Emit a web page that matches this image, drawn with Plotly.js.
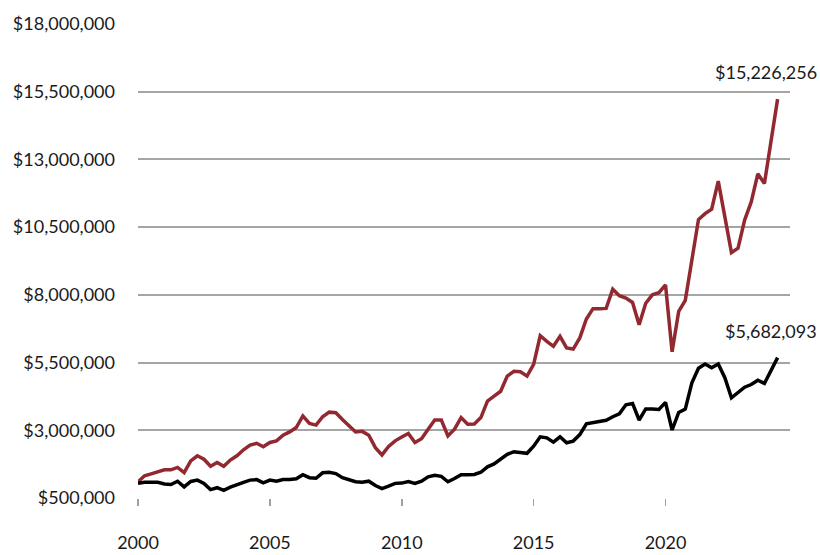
<!DOCTYPE html>
<html>
<head>
<meta charset="utf-8">
<script src="https://cdn.plot.ly/plotly-3.0.1.min.js"></script>
<style>html,body{margin:0;padding:0;background:#fff;}#chart{width:820px;height:555px;}</style>
</head>
<body>
<div id="chart"></div>
<script>
// Quarterly values, first point at start of 2000, one point per quarter
var startYear = 2000;
var stepYears = 0.25;

var redSeries = [
1100000,1320000,1390000,1480000,1540000,1540000,1630000,1440000,1870000,2060000,
1930000,1670000,1810000,1670000,1900000,2060000,2280000,2450000,2520000,2390000,
2550000,2610000,2820000,2940000,3100000,3530000,3250000,3190000,3500000,3670000,
3650000,3400000,3160000,2940000,2960000,2820000,2360000,2090000,2400000,2610000,
2750000,2880000,2550000,2690000,3040000,3380000,3380000,2790000,3040000,3470000,
3220000,3230000,3470000,4080000,4260000,4440000,5000000,5180000,5160000,5000000,
5430000,6490000,6280000,6100000,6470000,6040000,6000000,6410000,7110000,7490000,
7490000,7500000,8210000,7970000,7880000,7720000,6900000,7690000,8000000,8080000,
8370000,5900000,7390000,7800000,9290000,10780000,11000000,11160000,12200000,10880000,
9560000,9720000,10760000,11430000,12470000,12110000,13580000,15226256
];

var blackSeries = [
1040000,1080000,1080000,1080000,1020000,1000000,1120000,910000,1110000,1160000,
1040000,810000,880000,780000,900000,1000000,1080000,1160000,1180000,1060000,
1160000,1120000,1180000,1180000,1210000,1360000,1250000,1230000,1430000,1450000,
1400000,1250000,1160000,1100000,1080000,1120000,960000,850000,940000,1040000,
1050000,1110000,1040000,1120000,1280000,1340000,1300000,1100000,1220000,1360000,
1360000,1370000,1450000,1650000,1760000,1920000,2110000,2210000,2190000,2150000,
2410000,2760000,2720000,2560000,2760000,2540000,2600000,2840000,3240000,3280000,
3300000,3370000,3500000,3610000,3940000,3990000,3380000,3790000,3790000,3770000,
4030000,3010000,3660000,3780000,4750000,5290000,5450000,5310000,5450000,4940000,
4200000,4380000,4590000,4690000,4850000,4730000,5180000,5682093
];

var yTickStart = 500000;
var yTickStep = 2500000;
var yMax = 18000000;
var xTickYears = [2000, 2005, 2010, 2015, 2020];
var xTickLabels = ["2000", "2005", "2010", "2015", "2020"];

var xs = redSeries.map(function(_, i){ return startYear + i * stepYears; });

var lastX = xs[xs.length - 1];
var redLast = redSeries[redSeries.length - 1];
var blackLast = blackSeries[blackSeries.length - 1];

function money(v){ return "$" + Math.round(v).toLocaleString("en-US"); }

var fontFam = "Lato, 'Open Sans', sans-serif";
var fs = 18;

var traces = [
  {x: xs, y: redSeries, type: "scatter", mode: "lines",
   line: {color: "#922830", width: 3.5}, hoverinfo: "skip"},
  {x: xs, y: blackSeries, type: "scatter", mode: "lines",
   line: {color: "#000000", width: 3.5}, hoverinfo: "skip"}
];

var layout = {
  width: 820, height: 555,
  margin: {l: 138, r: 30, t: 24, b: 57},
  paper_bgcolor: "#ffffff", plot_bgcolor: "#ffffff",
  showlegend: false,
  font: {family: fontFam, size: fs, color: "#1a1a1a"},
  xaxis: {
    range: [2000, 2024.72],
    tickmode: "array", tickvals: xTickYears, ticktext: xTickLabels,
    showgrid: false, zeroline: false,
    showline: false,
    ticks: "outside", ticklen: 7, tickwidth: 1.5, tickcolor: "#a0a0a0",
    ticklabelstandoff: 21,
    tickfont: {family: fontFam, size: fs, color: "#1a1a1a"}
  },
  yaxis: {
    range: [yTickStart, yMax],
    tick0: yTickStart, dtick: yTickStep,
    tickprefix: "$", tickformat: ",.0f",
    showgrid: true, gridcolor: "#a6a6a6", gridwidth: 2,
    zeroline: false, showline: false, ticks: "",
    ticklabelstandoff: 22,
    tickfont: {family: fontFam, size: fs, color: "#1a1a1a"}
  },
  annotations: [
    {x: lastX, y: redLast, xref: "x", yref: "y", text: money(redLast),
     showarrow: false, xanchor: "center", yanchor: "middle",
     xshift: -12, yshift: 27, font: {family: fontFam, size: fs, color: "#1a1a1a"}},
    {x: lastX, y: blackLast, xref: "x", yref: "y", text: money(blackLast),
     showarrow: false, xanchor: "center", yanchor: "middle",
     xshift: -7, yshift: 27, font: {family: fontFam, size: fs, color: "#1a1a1a"}}
  ]
};

Plotly.newPlot("chart", traces, layout, {displayModeBar: false, staticPlot: true});
</script>
</body>
</html>
